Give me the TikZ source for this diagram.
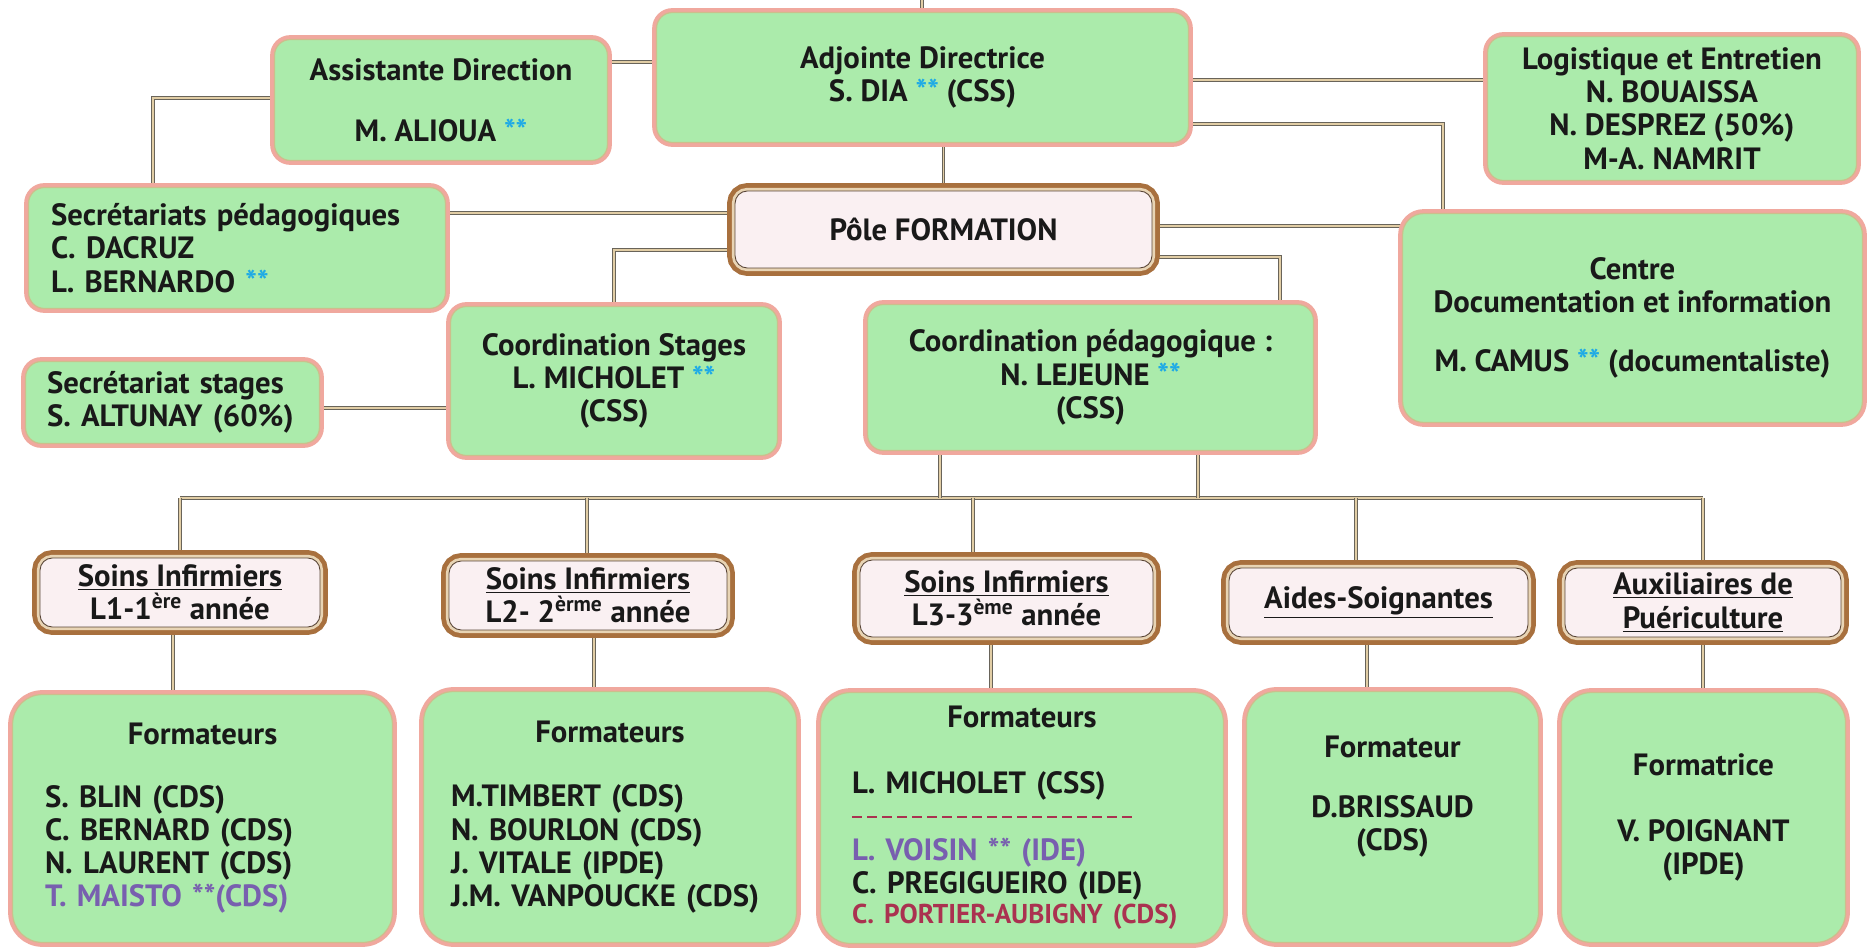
\documentclass[tikz,border=0pt]{standalone}
\usepackage{fontspec}
\setmainfont{PT Sans}
\usepackage{xcolor}
\usepackage{tikz}
\usetikzlibrary{calc}
\pgfdeclarelayer{bg}
\pgfsetlayers{bg,main}

\definecolor{boxgreen}{RGB}{171,235,171}
\definecolor{boxpink}{RGB}{240,168,158}
\definecolor{boxline}{RGB}{205,190,140}
\definecolor{headfill}{RGB}{250,240,242}
\definecolor{headbrown}{RGB}{168,112,62}
\definecolor{headtan}{RGB}{232,212,180}
\definecolor{headdark}{RGB}{90,70,55}
\definecolor{linedark}{RGB}{105,100,90}
\definecolor{linetan}{RGB}{225,205,165}
\definecolor{starblue}{RGB}{30,170,230}
\definecolor{namepurple}{RGB}{120,95,175}
\definecolor{namered}{RGB}{170,50,80}
\newcommand{\bstars}{\textcolor{starblue}{**}}
\newcommand{\redline}{\textcolor{namered}{\leaders\hbox{\rule[5pt]{0.2cm}{1.3pt}\hspace{0.1cm}}\hskip 5.86cm}}

\begin{document}
\begin{tikzpicture}[x=0.02cm, y=-0.02cm,
  box/.style={rounded corners=9pt, fill=boxgreen, draw=boxline, line width=0.7pt,
    preaction={draw=boxpink, line width=5pt}, align=center, text=black!90,
    font=\bfseries\fontsize{17.5}{18.9}\selectfont, inner sep=0pt},
  fbox/.style={box, rounded corners=17pt},
  headbox/.style={rounded corners=7pt, fill=headfill, draw=headdark, line width=0.5pt,
    preaction={draw=headbrown, line width=9pt}, preaction={draw=headtan, line width=3.6pt},
    align=center, text=black!90, font=\bfseries\fontsize{17.5}{18.9}\selectfont, inner sep=0pt},
  link/.style={draw=linedark, double=linetan, line width=0.5pt, double distance=0.8pt}]

  \useasboundingbox (0,0) rectangle (1873,952);

  % Direction
  \node[box, minimum width=10.64cm, minimum height=2.6cm] (adj) at (922.5,77.5)
    {Adjointe Directrice\\S. DIA \bstars{} (CSS)};
  \node[box, minimum width=6.66cm, minimum height=2.42cm] (asst) at (441,100)
    {Assistante Direction\\[16pt]M. ALIOUA \bstars};
  \node[box, minimum width=7.38cm, minimum height=2.88cm] (logi) at (1672,108.5)
    {Logistique et Entretien\\N. BOUAISSA\\N. DESPREZ (50\%)\\M-A. NAMRIT};
  \node[box, align=left, text width=7.44cm, inner xsep=0.45cm, minimum height=2.42cm]
    (secp) at (237,248)
    {Secrétariats pédagogiques\\C. DACRUZ\\L. BERNARDO \bstars};
  \node[headbox, minimum width=8.34cm, minimum height=1.54cm] (pole) at (943.5,229.5)
    {Pôle FORMATION};
  \node[box, rounded corners=12pt, minimum width=9.2cm, minimum height=4.18cm]
    (cdi) at (1632.5,318)
    {Centre\\Documentation et information\\[15pt]M. CAMUS \bstars{} (documentaliste)};

  % Coordination
  \node[box, minimum width=6.54cm, minimum height=2.98cm] (cstg) at (614,381)
    {Coordination Stages\\L. MICHOLET \bstars\\(CSS)};
  \node[box, minimum width=8.92cm, minimum height=2.92cm] (cped) at (1090.5,377.5)
    {Coordination pédagogique :\\N. LEJEUNE \bstars\\(CSS)};
  \node[box, align=left, text width=5.02cm, inner xsep=0.43cm, minimum height=1.64cm]
    (sstg) at (172.5,402.5)
    {Secrétariat stages\\S. ALTUNAY (60\%)};

  % Filieres
  \node[headbox, minimum width=5.6cm, minimum height=1.38cm] (h1) at (180,592.5)
    {\underline{Soins Infirmiers}\\L1-1\textsuperscript{ère} année};
  \node[headbox, minimum width=5.56cm, minimum height=1.38cm] (h2) at (588,595.5)
    {\underline{Soins Infirmiers}\\L2- 2\textsuperscript{èrme} année};
  \node[headbox, minimum width=5.86cm, minimum height=1.54cm] (h3) at (1006.5,598.5)
    {\underline{Soins Infirmiers}\\L3-3\textsuperscript{ème} année};
  \node[headbox, minimum width=5.98cm, minimum height=1.38cm] (h4) at (1378.5,602.5)
    {\underline{Aides-Soignantes}};
  \node[headbox, minimum width=5.52cm, minimum height=1.38cm] (h5) at (1703,602.5)
    {\underline{Auxiliaires de}\\\underline{Puériculture}};

  % Formateurs
  \node[fbox, align=left, text width=6.3cm, inner xsep=0.65cm, minimum height=4.96cm]
    (f1) at (202.5,818.5)
    {\makebox[\hsize]{Formateurs}\\[16.5pt]S. BLIN (CDS)\\C. BERNARD (CDS)\\N. LAURENT (CDS)\\
     \textcolor{namepurple}{T. MAISTO **(CDS)}};
  \node[fbox, align=left, text width=6.36cm, inner xsep=0.55cm, minimum height=5.02cm]
    (f2) at (610,817)
    {\makebox[\hsize]{Formateurs}\\[18pt]M.TIMBERT (CDS)\\N. BOURLON (CDS)\\J. VITALE (IPDE)\\
     J.M. VANPOUCKE (CDS)};
  \node[fbox, align=left, text width=6.8cm, inner xsep=0.63cm, minimum height=5.02cm]
    (f3) at (1022,818)
    {\makebox[\hsize]{Formateurs}\\[18.7pt]L. MICHOLET (CSS)\\\redline\\
     \textcolor{namepurple}{L. VOISIN ** (IDE)}\\C. PREGIGUEIRO (IDE)\\[-1.5pt]
     \textcolor{namered}{\fontsize{15.5}{17}\selectfont C. PORTIER-AUBIGNY (CDS)}};
  \node[fbox, minimum width=5.84cm, minimum height=5.02cm] (f4) at (1392.5,817)
    {Formateur\\[15pt]D.BRISSAUD\\(CDS)\\[8pt]\mbox{}};
  \node[fbox, minimum width=5.68cm, minimum height=5cm] (f5) at (1703.5,817.5)
    {Formatrice\\[19pt]V. POIGNANT\\(IPDE)};

  % Connectors
  \begin{pgfonlayer}{bg}
    \fill[white] (0,0) rectangle (1873,952);
    \coordinate (top) at (922,0);
    \draw[link] (top) -- (adj.north -| top);
    \draw[link] (asst.east |- 0,62) -- (adj.west |- 0,62);
    \draw[link] (asst.west |- 0,98) -| (secp.north -| 153,0);
    \draw[link] (adj.east |- 0,80) -- (logi.west |- 0,80);
    \draw[link] (adj.east |- 0,124) -| (cdi.north -| 1443,0);
    \draw[link] (pole.north) -- (pole.north |- adj.south);
    \draw[link] (secp.east |- 0,213) -- (pole.west |- 0,213);
    \draw[link] (pole.west |- 0,250) -| (cstg.north);
    \draw[link] (pole.east |- 0,226) -- (cdi.west |- 0,226);
    \draw[link] (pole.east |- 0,257) -| (cped.north -| 1280,0);
    \draw[link] (sstg.east |- 0,408) -- (cstg.west |- 0,408);

    % bus line
    \coordinate (busL) at (180,498);
    \coordinate (busR) at (1703,498);
    \draw[link] (busL) -- (busR);
    \foreach \x in {940,1198}
      \draw[link] (cped.south -| \x,0) -- (busL -| \x,0);
    \foreach \h/\x in {h1/180, h2/587, h3/973, h4/1356, h5/1703}
      \draw[link] (busL -| \x,0) -- (\h.north -| \x,0);
    \foreach \h/\f/\x in {h1/f1/173, h2/f2/594, h3/f3/991, h4/f4/1367, h5/f5/1703}
      \draw[link] (\h.south -| \x,0) -- (\f.north -| \x,0);
  \end{pgfonlayer}
\end{tikzpicture}
\end{document}
